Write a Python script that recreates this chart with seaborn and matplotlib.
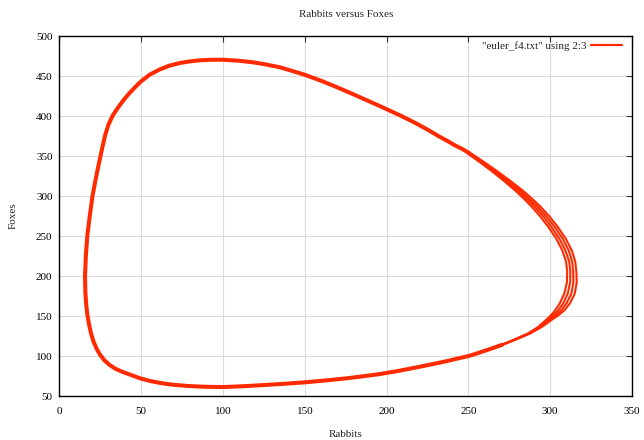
import matplotlib
matplotlib.use("Agg")
import matplotlib.pyplot as plt
from matplotlib.lines import Line2D
import seaborn as sns
import numpy as np

# Trajectoire (Rabbits, Foxes)
# partie commune : haut (vers la gauche), gauche (vers le bas), bas (vers la droite)
tour_x = [250.7, 246.0, 241.4, 237.0, 232.0, 225.0, 217.8, 209.0, 200.0, 193.0, 185.3,
          177.0, 169.0, 160.0, 150.0, 142.0, 134.5, 126.0, 118.0, 109.0, 100.0, 92.5,
          85.7, 79.5, 73.5, 67.0, 61.3, 55.0, 49.7, 46.2, 42.5, 39.2, 35.6, 32.5, 29.9,
          27.9, 26.4, 25.1, 22.5, 20.2, 18.5, 17.0, 16.1, 15.6, 15.8, 16.3, 17.0,
          18.0, 19.3, 20.8, 22.6, 24.8, 27.5, 30.5, 34.0, 38.0, 43.0, 49.7, 56.0, 63.0,
          70.0, 78.0, 88.0, 100.0, 112.0, 124.3, 137.0, 150.0, 162.5, 175.0, 185.0, 195.4,
          207.0, 219.8, 235.0, 250.7, 260.5, 270.6]
tour_y = [353.4, 359.0, 363.7, 369.0, 374.5, 383.0, 391.0, 400.0, 408.5, 415.0, 422.0,
          429.5, 436.5, 444.0, 451.5, 456.5, 461.0, 464.5, 467.2, 469.2, 470.3, 470.3,
          469.6, 468.2, 466.2, 462.8, 458.2, 451.5, 443.0, 436.0, 428.0, 420.0, 410.0,
          400.5, 389.0, 376.0, 362.5, 350.4, 325.0, 300.4, 275.0, 250.4, 225.0, 200.0,
          180.0, 165.0, 152.0, 140.0, 128.0, 118.0, 109.5, 101.5, 94.5, 89.0, 84.3, 80.6,
          76.8, 71.8, 68.5, 65.8, 64.0, 62.6, 61.6, 61.2, 62.2, 63.6, 65.2, 67.1, 69.4, 72.0,
          74.5, 77.3, 81.3, 86.4, 92.8, 100.3, 106.8, 114.0]

# partie droite : les tours successifs se séparent
droite_y = [114, 121, 128, 136, 145, 151, 157, 166, 178, 192, 205, 218, 232, 247, 262,
            275, 287, 297, 307, 318, 330, 341, 353]
droite_x1 = [270.2, 278.5, 286.2, 292.4, 297.4, 300.5, 303.0, 305.9, 308.6, 310.2, 310.4,
             309.7, 307.4, 303.6, 298.6, 293.7, 288.5, 283.7, 278.5, 272.2, 264.9, 257.8,
             249.6]
droite_x2 = [270.5, 278.8, 286.7, 293.1, 298.5, 302.0, 304.9, 308.0, 310.7, 312.2, 312.3,
             311.6, 309.3, 305.5, 300.5, 295.6, 290.3, 285.4, 280.0, 273.5, 266.0, 258.7,
             250.3]
droite_x3 = [270.7, 279.2, 287.1, 293.9, 299.7, 303.6, 306.7, 310.0, 312.9, 314.2, 314.1,
             313.4, 311.3, 307.5, 302.5, 297.4, 292.1, 287.0, 281.6, 274.9, 267.2, 259.7,
             251.1]
droite_x4 = [271.0, 279.5, 287.6, 294.6, 300.8, 305.1, 308.6, 312.1, 315.0, 316.2, 316.0,
             315.3, 313.2, 309.4, 304.4, 299.3, 293.9, 288.7, 283.1, 276.2, 268.3, 260.6,
             251.8]

rouge = "#ff2a00"

sns.set_theme(style="whitegrid")
plt.rcParams['font.family'] = ['Liberation Serif', 'DejaVu Serif']
plt.rcParams['font.size'] = 8

fig = plt.figure(figsize=(6.44, 4.40), dpi=100)
ax = fig.add_axes([59.5 / 644, 1 - 396 / 440, (632 - 59.5) / 644, 360 / 440])
ax.set_facecolor("white")

sns.lineplot(x=tour_x, y=tour_y, sort=False, estimator=None, color=rouge,
             linewidth=2.9, ax=ax)
for xs in [droite_x1, droite_x2, droite_x3, droite_x4]:
    sns.lineplot(x=xs, y=droite_y, sort=False, estimator=None, color=rouge,
                 linewidth=1.5, ax=ax)

ax.set_xlim(0, 350)
ax.set_ylim(50, 500)
ax.set_xticks(np.arange(0, 351, 50))
ax.set_yticks(np.arange(50, 501, 50))
ax.grid(True, color="#dcdcdc", linewidth=0.8)
for s in ax.spines.values():
    s.set_color("black")
    s.set_linewidth(1.0)
ax.tick_params(direction="in", length=4, width=0.8, color="#333333",
               top=True, right=True, labelsize=8, labelcolor="black")
ax.tick_params(axis="x", pad=8)
ax.tick_params(axis="y", pad=5)

ax.set_title("Rabbits versus Foxes", fontsize=8, pad=14)
ax.set_xlabel("Rabbits", fontsize=8, labelpad=10)
ax.set_ylabel("Foxes", fontsize=8, labelpad=13)

poignee = Line2D([], [], color=rouge, linewidth=1.6)
ax.legend(handles=[poignee], labels=['"euler_f4.txt" using 2:3'], loc="upper right",
          frameon=False, markerfirst=False, fontsize=8, handlelength=2.8,
          handletextpad=0.4, borderpad=0, borderaxespad=0,
          bbox_to_anchor=((622 - 59.5) / 572.5, 0.985))

fig.savefig("out.png", dpi=100)
